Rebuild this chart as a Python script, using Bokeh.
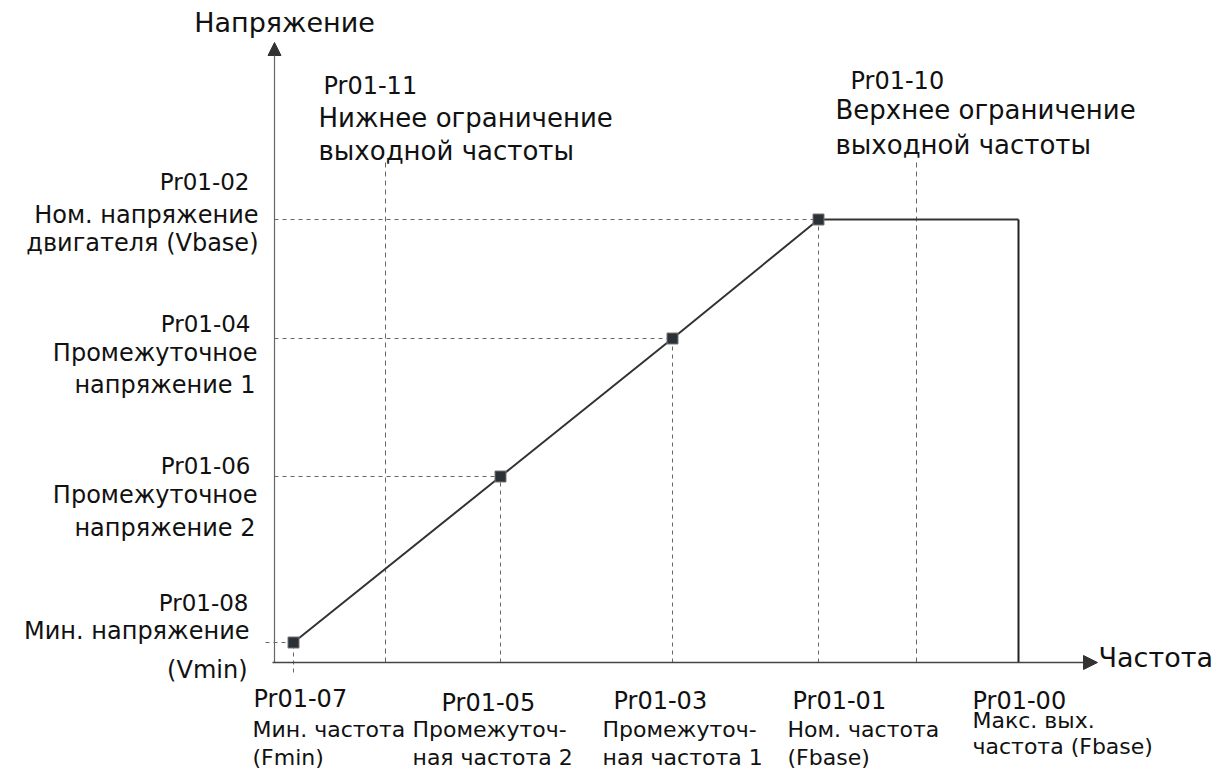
from bokeh.plotting import figure
from bokeh.models import Range1d, Arrow, NormalHead, ColumnDataSource
from bokeh.core.properties import value
from bokeh.embed import file_html
from bokeh.resources import INLINE

# ---------------- data (arbitrary units) ----------------
# V/f curve points: Fmin, F2, F1, Fbase
freq_points = [1.9, 22.6, 39.8, 54.4]
volt_points = [2.0, 18.6, 32.4, 44.3]
f_max = 74.4
f_low_limit = 11.1
f_high_limit = 64.2
limit_top = 50.0
x_axis_end = 82.3
y_axis_end = 62.0

y_title = "Напряжение"
x_title = "Частота"

# labels for voltage levels (Vbase, V1, V2, Vmin)
volt_label_values = [44.3, 32.4, 18.6, 2.0]
volt_labels = [
    ["Pr01-02", "Ном. напряжение", "двигателя (Vbase)"],
    ["Pr01-04", "Промежуточное", "напряжение 1"],
    ["Pr01-06", "Промежуточное", "напряжение 2"],
    ["Pr01-08", "Мин. напряжение", "(Vmin)"],
]
# labels for frequency levels (Fmin, F2, F1, Fbase, Fmax)
freq_label_values = [1.9, 22.6, 39.8, 54.4, 74.4]
freq_labels = [
    ["Pr01-07", "Мин. частота", "(Fmin)"],
    ["Pr01-05", "Промежуточ-", "ная частота 2"],
    ["Pr01-03", "Промежуточ-", "ная частота 1"],
    ["Pr01-01", "Ном. частота", "(Fbase)"],
    ["Pr01-00", "Макс. вых.", "частота (Fbase)"],
]
# labels for the frequency limits (lower, upper)
limit_values = [f_low_limit, f_high_limit]
limit_labels = [
    ["Pr01-11", "Нижнее ограничение", "выходной частоты"],
    ["Pr01-10", "Верхнее ограничение", "выходной частоты"],
]

# ---------------- layout / style (pixel offsets) ----------------
FONT = "DejaVu Sans"
DY = -8  # baseline correction
volt_offsets = [
    [(-25, -30), (-16, 3), (-16, 31)],
    [(-24, -7), (-17, 22), (-19, 54)],
    [(-24, -3), (-17, 26), (-19, 59)],
    [(-26, -32), (-25, -4), (-27, 35)],
]
volt_sizes = ["23px", "24px", "24px"]
freq_offsets = [
    [(-40, 44), (-41, 75), (-41, 103)],
    [(-59, 48), (-88, 75), (-88, 103)],
    [(-59, 46), (-70, 75), (-70, 103)],
    [(-26, 46), (-31, 75), (-31, 103)],
    [(-46, 46), (-46, 66), (-46, 92)],
]
freq_sizes = [["24px", "22px", "22px"]] * 5
limit_offsets = [
    [(-62, -69), (-67, -37), (-67, -4)],
    [(-66, -74), (-81, -45), (-81, -10)],
]
lim_sizes = ["24px", "26px", "26px"]

p = figure(width=1232, height=776, output_backend="svg", toolbar_location=None,
           x_range=Range1d(-27.4, 95.8), y_range=Range1d(-11.4, 66.2),
           x_axis_location=None, y_axis_location=None, min_border=0)
p.grid.visible = False
p.outline_line_color = None
p.background_fill_color = "white"
p.border_fill_color = "white"

dash_color = "#666666"

# dashed guides: vertical from axis to each curve point (Fmin extends below axis)
vy0 = [-1.0] + [0.0] * (len(freq_points) - 1)
p.segment(x0=freq_points, y0=vy0, x1=freq_points, y1=volt_points,
          line_color=dash_color, line_width=1, line_dash="4 4")
# horizontal from axis to each curve point (Vmin extends slightly left)
hx0 = [-0.9] + [0.0] * (len(volt_points) - 1)
p.segment(x0=hx0, y0=volt_points, x1=freq_points, y1=volt_points,
          line_color=dash_color, line_width=1, line_dash="4 4")
# frequency limit lines
p.segment(x0=limit_values, y0=[0, 0], x1=limit_values, y1=[limit_top, limit_top],
          line_color=dash_color, line_width=1, line_dash="5 4")

# V/f curve
curve_x = freq_points + [f_max, f_max]
curve_y = volt_points + [volt_points[-1], 0.0]
p.line(curve_x[:-1], curve_y[:-1], line_color="#333333", line_width=2)
p.line(curve_x[-2:], curve_y[-2:], line_color="#222222", line_width=2)
p.scatter(freq_points, volt_points, marker="square", size=11,
          fill_color="#2b3137", line_color="#777777", line_width=1)

# axes with arrows
p.add_layout(Arrow(end=NormalHead(size=13, fill_color="#333333", line_color="#333333"),
                   x_start=0, y_start=0, x_end=0, y_end=y_axis_end,
                   line_color="#666666", line_width=1.2))
p.add_layout(Arrow(end=NormalHead(size=14, fill_color="#333333", line_color="#333333"),
                   x_start=-0.2, y_start=0, x_end=x_axis_end, y_end=0,
                   line_color="#444444", line_width=1.5))

# text table
tx, ty, tt, xo, yo, al, fs = [], [], [], [], [], [], []
for v, lines, offs in zip(volt_label_values, volt_labels, volt_offsets):
    for s, (dx, dy), z in zip(lines, offs, volt_sizes):
        tx.append(0.0); ty.append(v); tt.append(s); xo.append(dx); yo.append(dy + DY)
        al.append("right"); fs.append(z)
for f, lines, offs, sz in zip(freq_label_values, freq_labels, freq_offsets, freq_sizes):
    for s, (dx, dy), z in zip(lines, offs, sz):
        tx.append(f); ty.append(0.0); tt.append(s); xo.append(dx); yo.append(dy + DY)
        al.append("left"); fs.append(z)
for f, lines, offs in zip(limit_values, limit_labels, limit_offsets):
    for s, (dx, dy), z in zip(lines, offs, lim_sizes):
        tx.append(f); ty.append(limit_top); tt.append(s); xo.append(dx); yo.append(dy + DY)
        al.append("left"); fs.append(z)
# axis titles
tx += [0.0, x_axis_end]; ty += [y_axis_end, 0.0]; tt += [y_title, x_title]
xo += [10, 1]; yo += [-12 + DY, 3 + DY]; al += ["center", "left"]; fs += ["27px", "27px"]

src = ColumnDataSource(dict(x=tx, y=ty, text=tt, xo=xo, yo=yo, al=al, fs=fs))
p.text(x="x", y="y", text="text", x_offset="xo", y_offset="yo", text_align="al",
       text_font_size="fs", text_baseline="alphabetic", text_color="#111111",
       text_font=value(FONT), source=src)

open("out.html", "w").write(file_html(p, INLINE))
